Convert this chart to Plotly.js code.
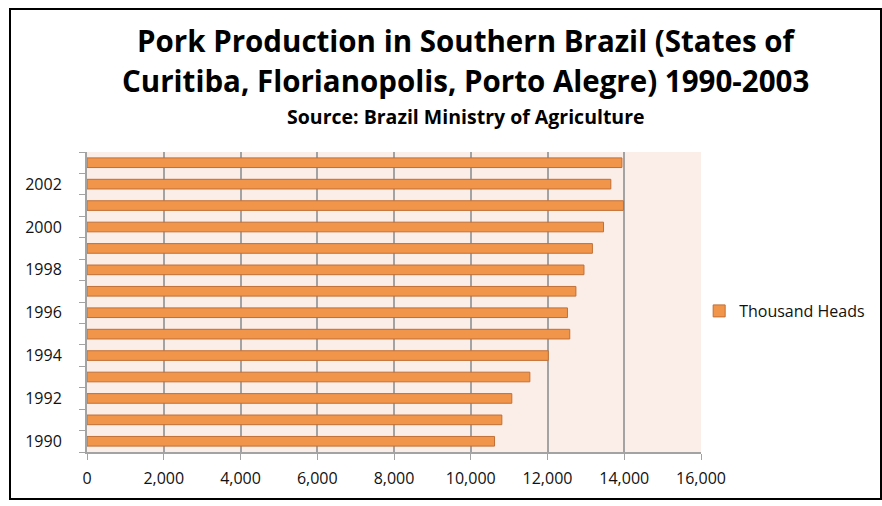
<!DOCTYPE html>
<html>
<head>
<meta charset="utf-8">
<script src="https://cdn.plot.ly/plotly-3.0.1.min.js"></script>
<style>
html,body{margin:0;padding:0;background:#fff;}
#chart{width:882px;height:506px;}
#frame{position:absolute;left:9px;top:8px;width:869px;height:488px;border:2px solid #000;pointer-events:none;}
</style>
</head>
<body>
<div id="chart"></div>
<div id="frame"></div>
<script>
var years = [1990,1991,1992,1993,1994,1995,1996,1997,1998,1999,2000,2001,2002,2003];
var heads = [10620,10810,11070,11540,12020,12580,12520,12740,12950,13170,13460,13980,13650,13940];
var yearLabels = ['1990','1992','1994','1996','1998','2000','2002'];
var labelYears = [1990,1992,1994,1996,1998,2000,2002];
var xTicks = [0,2000,4000,6000,8000,10000,12000,14000,16000];
var seriesName = 'Thousand Heads';
var titleLine1 = 'Pork Production in Southern Brazil (States of';
var titleLine2 = 'Curitiba, Florianopolis, Porto Alegre) 1990-2003';
var subtitle = 'Source: Brazil Ministry of Agriculture';

var boundaries = years.map(function(y){return y-0.5;}).concat([years[years.length-1]+0.5]);
var FONT = '"Open Sans", Lato, sans-serif';

var trace = {
  type:'bar', orientation:'h', x:heads, y:years, name:seriesName,
  marker:{color:'#f1954b', line:{color:'#c26f35', width:1}},
  showlegend:true, hoverinfo:'x+y'
};

var layout = {
  width:882, height:506,
  margin:{l:87, r:181, t:152, b:54},
  paper_bgcolor:'#ffffff', plot_bgcolor:'#fbede8',
  font:{family:FONT, color:'#111'},
  title:{text:''},
  annotations:[
    {text:'<b>'+titleLine1+'</b>', xref:'paper', yref:'paper', x:0.617, y:1.370, xanchor:'center', yanchor:'middle', showarrow:false, font:{size:29.5, family:FONT, color:'#000'}},
    {text:'<b>'+titleLine2+'</b>', xref:'paper', yref:'paper', x:0.617, y:1.237, xanchor:'center', yanchor:'middle', showarrow:false, font:{size:29.5, family:FONT, color:'#000'}},
    {text:'<b>'+subtitle+'</b>', xref:'paper', yref:'paper', x:0.617, y:1.117, xanchor:'center', yanchor:'middle', showarrow:false, font:{size:19.5, family:FONT, color:'#000'}}
  ],
  bargap:0.55,
  xaxis:{
    range:[0,16000], tickvals:xTicks, ticktext:xTicks.map(function(v){return v.toLocaleString('en-US');}),
    showgrid:true, gridcolor:'#a3a3a3', gridwidth:2,
    zeroline:false, showline:true, linecolor:'#a3a3a3', linewidth:2,
    ticks:'outside', ticklen:6, tickcolor:'#a3a3a3', tickwidth:1,
    ticklabelstandoff:5,
    tickfont:{size:16, color:'#111', family:FONT}, fixedrange:true
  },
  yaxis:{
    range:[1989.5, 2003.5], tickvals:labelYears, ticktext:yearLabels,
    showgrid:false, zeroline:false, showline:true, linecolor:'#a3a3a3', linewidth:2,
    ticks:'', ticklabelstandoff:20,
    minor:{tickvals:boundaries, ticks:'outside', ticklen:6, tickcolor:'#a3a3a3', tickwidth:1, showgrid:false},
    tickfont:{size:16, color:'#111', family:FONT}, fixedrange:true
  },
  legend:{
    x:0.997, y:0.47, xanchor:'left', yanchor:'middle',
    font:{size:16, color:'#111', family:FONT}, bgcolor:'rgba(0,0,0,0)', itemwidth:30
  }
};

Plotly.newPlot('chart',[trace],layout,{displayModeBar:false, staticPlot:true});
</script>
</body>
</html>
